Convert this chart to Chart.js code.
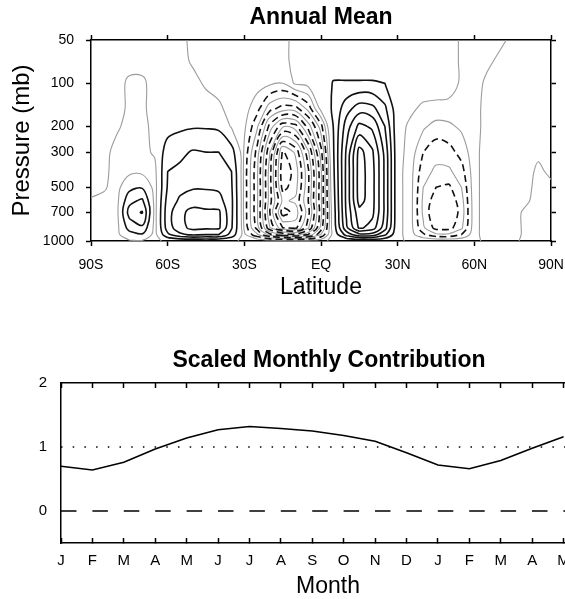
<!DOCTYPE html>
<html>
<head>
<meta charset="utf-8">
<script src="https://cdn.jsdelivr.net/npm/chart.js"></script>
<style>
  html, body { margin: 0; padding: 0; background: #fff; overflow: hidden; width: 565px; height: 599px; }
  canvas { position: absolute; left: 0; }
  #top { top: 0; }
  #bottom { top: 330px; }
</style>
</head>
<body>
<canvas id="top" width="642" height="301"></canvas>
<canvas id="bottom" width="658" height="270"></canvas>
<script>
'use strict';

// ---- Annual mean streamfunction (x10), rows follow presLevels, columns follow lats ----
var lats = [-90, -85, -80, -75, -70, -65, -60, -55, -50, -45, -40, -35, -30, -25, -20, -15, -10, -5, 0,
  5, 10, 15, 20, 25, 30, 35, 40, 45, 50, 55, 60, 65, 70, 75, 80, 85, 90];
var presLevels = [1000, 925, 850, 700, 600, 500, 400, 300, 200, 150, 100, 70, 50];
var psi = [
  [-1, -1, -1, -1, -1, -1, 1, 1, 1, 1, 1, 1, -1, -1, -1, -1, -1, -1, -1, 1, 1, 1, 1, 1, 1, -1, -1, -1, -1, -1, -1, 1, 1, 1, -1, -1, -1],
  [-1, -2, -2, 6, 9, -3, 18, 28, 32, 30, 30, 16, -4, -14, -28, -35, -38, -30, -15, 3, 24, 38, 36, 22, 2, -3, -9, -14, -14, -10, -2, 3, 2, 2, -1, -2, -1],
  [-1, -2, -3, 14, 18, -3, 25, 37, 43, 42, 42, 21, -6, -22, -45, -60, -62, -46, -23, 5, 38, 62, 56, 34, 2, -3, -14, -22, -22, -16, -2, 3, 2, 2, -1, -2, -1],
  [-1, -2, -3, 24, 31, -3, 26, 38, 43, 42, 42, 22, -7, -24, -50, -73, -68, -52, -27, 6, 42, 67, 63, 38, 2, -3, -16, -25, -25, -18, -2, 3, 2, 2, -1, -2, -1],
  [-1, -2, -3, 17, 22, -3, 24, 32, 36, 35, 34, 22, -7, -24, -48, -66, -64, -50, -26, 7, 43, 74, 64, 38, 2, -3, -16, -23, -24, -17, -2, 3, 2, 2, 1, -2, -1],
  [3, 1, -3, 7, 9, -3, 21, 27, 29, 29, 28, 21, -7, -24, -48, -72, -67, -51, -26, 8, 43, 75, 64, 38, 2, -3, -15, -20, -21, -15, -2, 3, 2, 2, 2, -2, -1],
  [2, 2, -3, -2, -2, -2, 20, 22, 25, 25, 24, 20, -7, -24, -48, -74, -68, -51, -26, 9, 43, 75, 64, 38, 2, -3, -13, -16, -16, -12, -2, 3, 2, 2, 2, -1, 1],
  [2, 2, -2, -3, -2, 1, 15, 18, 21, 20, 20, 14, -6, -22, -45, -71, -64, -46, -22, 10, 42, 74, 62, 37, 2, -2, -10, -13, -12, -8, -2, 3, 2, 2, 2, 1, 1],
  [2, 2, 1, -2, -2, 2, 6, 8, 9, 9, 8, -1, -4, -14, -32, -44, -42, -28, -12, 11, 35, 53, 48, 30, 2, -1, -4, -7, -6, -4, -2, 2, 2, 2, 2, 2, 1],
  [2, 2, 2, -1, -1, 2, 3, 4, 4, 3, 1, -2, -3, -8, -18, -22, -22, -13, 2, 12, 26, 35, 33, 22, 3, 1, -1, -1, -2, -2, -2, 2, 2, 2, 2, 2, 1],
  [1, 2, 2, -1, -1, 2, 2, 3, 2, -1, -2, -2, -2, -3, -4, -5, 1, 2, 3, 11, 11, 11, 11, 10, 4, 3, 3, 2, 3, -1, -2, 1, 2, 2, 2, 2, 1],
  [1, 2, 2, 2, 2, 2, 2, 2, -1, -2, -2, -2, -2, -2, -2, -2, 2, 2, 3, 3, 3, 3, 3, 3, 4, 3, 3, 2, 3, -1, -1, -1, 1, 2, 2, 2, 1],
  [1, 1, 1, 1, 1, 1, 1, 1, -1, -1, -1, -1, -1, -1, -1, -1, 1, 1, 2, 2, 2, 2, 2, 2, 3, 3, 3, 2, 3, -1, -1, -1, -1, 1, 1, 1, 1]
];
var blackLevels = [-70, -60, -50, -40, -30, -20, -10, 10, 20, 30, 40, 50, 60, 70];
var greyLevels = [0, -5, -15, -25, -35, -45, -55, -65];

var latTicks = [-90, -60, -30, 0, 30, 60, 90];
var latTickLabels = ['90S', '60S', '30S', 'EQ', '30N', '60N', '90N'];
var presTicks = [1000, 700, 500, 300, 200, 100, 50];

// ---- Scaled monthly contribution ----
var monthLabels = ['J', 'F', 'M', 'A', 'M', 'J', 'J', 'A', 'S', 'O', 'N', 'D', 'J', 'F', 'M', 'A', 'M', 'J'];
var contribution = [0.70, 0.64, 0.76, 0.97, 1.14, 1.27, 1.32, 1.29, 1.25, 1.18, 1.09, 0.91, 0.72, 0.66, 0.79, 0.98, 1.16];
var contribTicks = [0, 1, 2];
var refOne = 1;
var refZero = 0;

Chart.defaults.font.family = "'Liberation Sans', Arial, Helvetica, sans-serif";
Chart.defaults.color = '#000';

// standard atmosphere height (km) for a pressure (mb), used as the vertical axis
function zOf(p) {
  if (p >= 226.32) return 44.3308 * (1 - Math.pow(p / 1013.25, 0.190263));
  return 11 + 6.3416 * Math.log(226.32 / p);
}
var zRows = presLevels.map(zOf);

// marching squares on the lat / height grid, segments joined into polylines
function contour(level) {
  var nx = lats.length, ny = zRows.length;
  var pts = {}, segs = [];
  function above(i, j) { return psi[j][i] >= level; }
  function edge(key, i1, j1, i2, j2) {
    if (!pts[key]) {
      var v1 = psi[j1][i1], v2 = psi[j2][i2];
      var t = (level - v1) / (v2 - v1);
      pts[key] = { x: lats[i1] + t * (lats[i2] - lats[i1]), y: zRows[j1] + t * (zRows[j2] - zRows[j1]) };
    }
    return key;
  }
  for (var j = 0; j < ny - 1; j++) {
    for (var i = 0; i < nx - 1; i++) {
      var a = above(i, j), b = above(i + 1, j), c = above(i + 1, j + 1), d = above(i, j + 1);
      var e = [];
      if (a !== b) e[0] = edge('h' + i + '_' + j, i, j, i + 1, j);
      if (b !== c) e[1] = edge('v' + (i + 1) + '_' + j, i + 1, j, i + 1, j + 1);
      if (d !== c) e[2] = edge('h' + i + '_' + (j + 1), i, j + 1, i + 1, j + 1);
      if (a !== d) e[3] = edge('v' + i + '_' + j, i, j, i, j + 1);
      var keys = e.filter(function (k) { return k; });
      if (keys.length === 2) {
        segs.push(keys);
      } else if (keys.length === 4) {
        var mid = (psi[j][i] + psi[j][i + 1] + psi[j + 1][i + 1] + psi[j + 1][i]) / 4 >= level;
        if (mid === a) { segs.push([e[0], e[1]]); segs.push([e[2], e[3]]); }
        else { segs.push([e[3], e[0]]); segs.push([e[1], e[2]]); }
      }
    }
  }
  var byKey = {};
  segs.forEach(function (s, n) {
    s.forEach(function (k) { (byKey[k] = byKey[k] || []).push(n); });
  });
  var used = segs.map(function () { return false; });
  var lines = [];
  for (var n = 0; n < segs.length; n++) {
    if (used[n]) continue;
    used[n] = true;
    var chain = [segs[n][0], segs[n][1]];
    for (var dir = 0; dir < 2; dir++) {
      var grow = true;
      while (grow) {
        grow = false;
        var end = chain[chain.length - 1];
        var list = byKey[end];
        for (var m = 0; m < list.length; m++) {
          var s = list[m];
          if (!used[s]) {
            used[s] = true;
            chain.push(segs[s][0] === end ? segs[s][1] : segs[s][0]);
            grow = true;
            break;
          }
        }
      }
      chain.reverse();
    }
    lines.push(chain.map(function (k) { return { x: pts[k].x, y: pts[k].y }; }));
  }
  return lines;
}

var contourSets = [];
blackLevels.forEach(function (lv) {
  contour(lv).forEach(function (line) {
    contourSets.push({
      data: line, borderColor: '#111', borderWidth: 1.6,
      borderDash: lv < 0 ? [7, 4] : [], tension: 0.35, pointRadius: 0,
      borderJoinStyle: 'round', fill: false, order: 0
    });
  });
});
greyLevels.forEach(function (lv) {
  contour(lv).forEach(function (line) {
    contourSets.push({
      data: line, borderColor: '#9c9c9c', borderWidth: 1.1,
      tension: 0.35, pointRadius: 0, borderJoinStyle: 'round', fill: false, order: 1
    });
  });
});

var axisLine = { color: '#000', width: 1.5 };

function latTickSetup(s) { s.ticks = latTicks.map(function (v) { return { value: v }; }); }
function presTickSetup(s) { s.ticks = presTicks.map(function (p) { return { value: zOf(p) }; }); }

new Chart(document.getElementById('top'), {
  type: 'line',
  data: { datasets: contourSets },
  options: {
    responsive: false,
    animation: false,
    plugins: {
      legend: { display: false },
      tooltip: { enabled: false },
      title: {
        display: true, text: 'Annual Mean', color: '#000',
        font: { size: 23, weight: 'bold' }, padding: { top: 4, bottom: 0 }
      }
    },
    scales: {
      x: {
        type: 'linear', position: 'bottom', min: -90, max: 90, bounds: 'data',
        afterBuildTicks: latTickSetup,
        ticks: {
          autoSkip: false, maxRotation: 0, padding: 11, font: { size: 14 },
          callback: function (v, i) { return latTickLabels[i]; }
        },
        grid: { drawOnChartArea: false, tickLength: 5, color: '#000', tickWidth: 1.5 },
        border: axisLine,
        title: { display: true, text: 'Latitude', font: { size: 23 }, padding: 0 },
        afterFit: function (s) { s.height = 60; }
      },
      x2: {
        type: 'linear', position: 'top', min: -90, max: 90, bounds: 'data',
        afterBuildTicks: latTickSetup,
        ticks: { display: false },
        grid: { drawOnChartArea: false, tickLength: 5, color: '#000', tickWidth: 1.5 },
        border: axisLine,
        afterFit: function (s) { s.height = 8.4; }
      },
      y: {
        type: 'linear', position: 'left', min: zOf(1000), max: zOf(50), bounds: 'data',
        afterBuildTicks: presTickSetup,
        ticks: {
          autoSkip: false, padding: 12, font: { size: 14 },
          callback: function (v, i) { return String(presTicks[i]); }
        },
        grid: { drawOnChartArea: false, tickLength: 5, color: '#000', tickWidth: 1.5 },
        border: axisLine,
        title: { display: true, text: 'Pressure (mb)', font: { size: 24 }, padding: { top: 8, bottom: 0 } },
        afterFit: function (s) { s.width = 91; }
      },
      y2: {
        type: 'linear', position: 'right', min: zOf(1000), max: zOf(50), bounds: 'data',
        afterBuildTicks: presTickSetup,
        ticks: { display: false },
        grid: { drawOnChartArea: false, tickLength: 5, color: '#000', tickWidth: 1.5 },
        border: axisLine,
        afterFit: function (s) { s.width = 91; }
      }
    }
  }
});

function monthTickSetup(s) { s.ticks = monthLabels.map(function (m, i) { return { value: i }; }); }

new Chart(document.getElementById('bottom'), {
  type: 'line',
  data: {
    datasets: [
      {
        data: contribution.map(function (v, i) { return { x: i, y: v }; }),
        borderColor: '#000', borderWidth: 1.6, pointRadius: 0, tension: 0, fill: false
      },
      {
        data: [{ x: 0, y: refOne }, { x: monthLabels.length - 1, y: refOne }],
        borderColor: '#000', borderWidth: 1.5, borderDash: [1.5, 10.2], pointRadius: 0, fill: false
      },
      {
        data: [{ x: 0, y: refZero }, { x: monthLabels.length - 1, y: refZero }],
        borderColor: '#000', borderWidth: 1.4, borderDash: [15.5, 15.9], pointRadius: 0, fill: false
      }
    ]
  },
  options: {
    responsive: false,
    animation: false,
    plugins: {
      legend: { display: false },
      tooltip: { enabled: false },
      title: {
        display: true, text: 'Scaled Monthly Contribution', color: '#000',
        font: { size: 23, weight: 'bold' }, padding: { top: 17, bottom: 0 }
      }
    },
    scales: {
      x: {
        type: 'linear', position: 'bottom', min: 0, max: monthLabels.length - 1, bounds: 'data',
        afterBuildTicks: monthTickSetup,
        ticks: {
          autoSkip: false, maxRotation: 0, padding: 14, font: { size: 15 },
          callback: function (v, i) { return monthLabels[i]; }
        },
        grid: { drawOnChartArea: false, tickLength: -5, color: '#000', tickWidth: 1.5 },
        border: axisLine,
        title: { display: true, text: 'Month', font: { size: 23 }, padding: 0 },
        afterFit: function (s) { s.height = 57; }
      },
      x2: {
        type: 'linear', position: 'top', min: 0, max: monthLabels.length - 1, bounds: 'data',
        afterBuildTicks: monthTickSetup,
        ticks: { display: false },
        grid: { drawOnChartArea: false, tickLength: -5, color: '#000', tickWidth: 1.5 },
        border: axisLine,
        afterFit: function (s) { s.height = 8.4; }
      },
      y: {
        type: 'linear', position: 'left', min: -0.5, max: 2, bounds: 'data',
        afterBuildTicks: function (s) { s.ticks = contribTicks.map(function (v) { return { value: v }; }); },
        ticks: { autoSkip: false, padding: 14, font: { size: 15 } },
        grid: { drawOnChartArea: false, drawTicks: false },
        border: axisLine,
        afterFit: function (s) { s.width = 61; }
      },
      y2: {
        type: 'linear', position: 'right', min: -0.5, max: 2,
        ticks: { display: false },
        grid: { display: false },
        border: { display: false },
        afterFit: function (s) { s.width = 63; }
      }
    }
  }
});
</script>
</body>
</html>
